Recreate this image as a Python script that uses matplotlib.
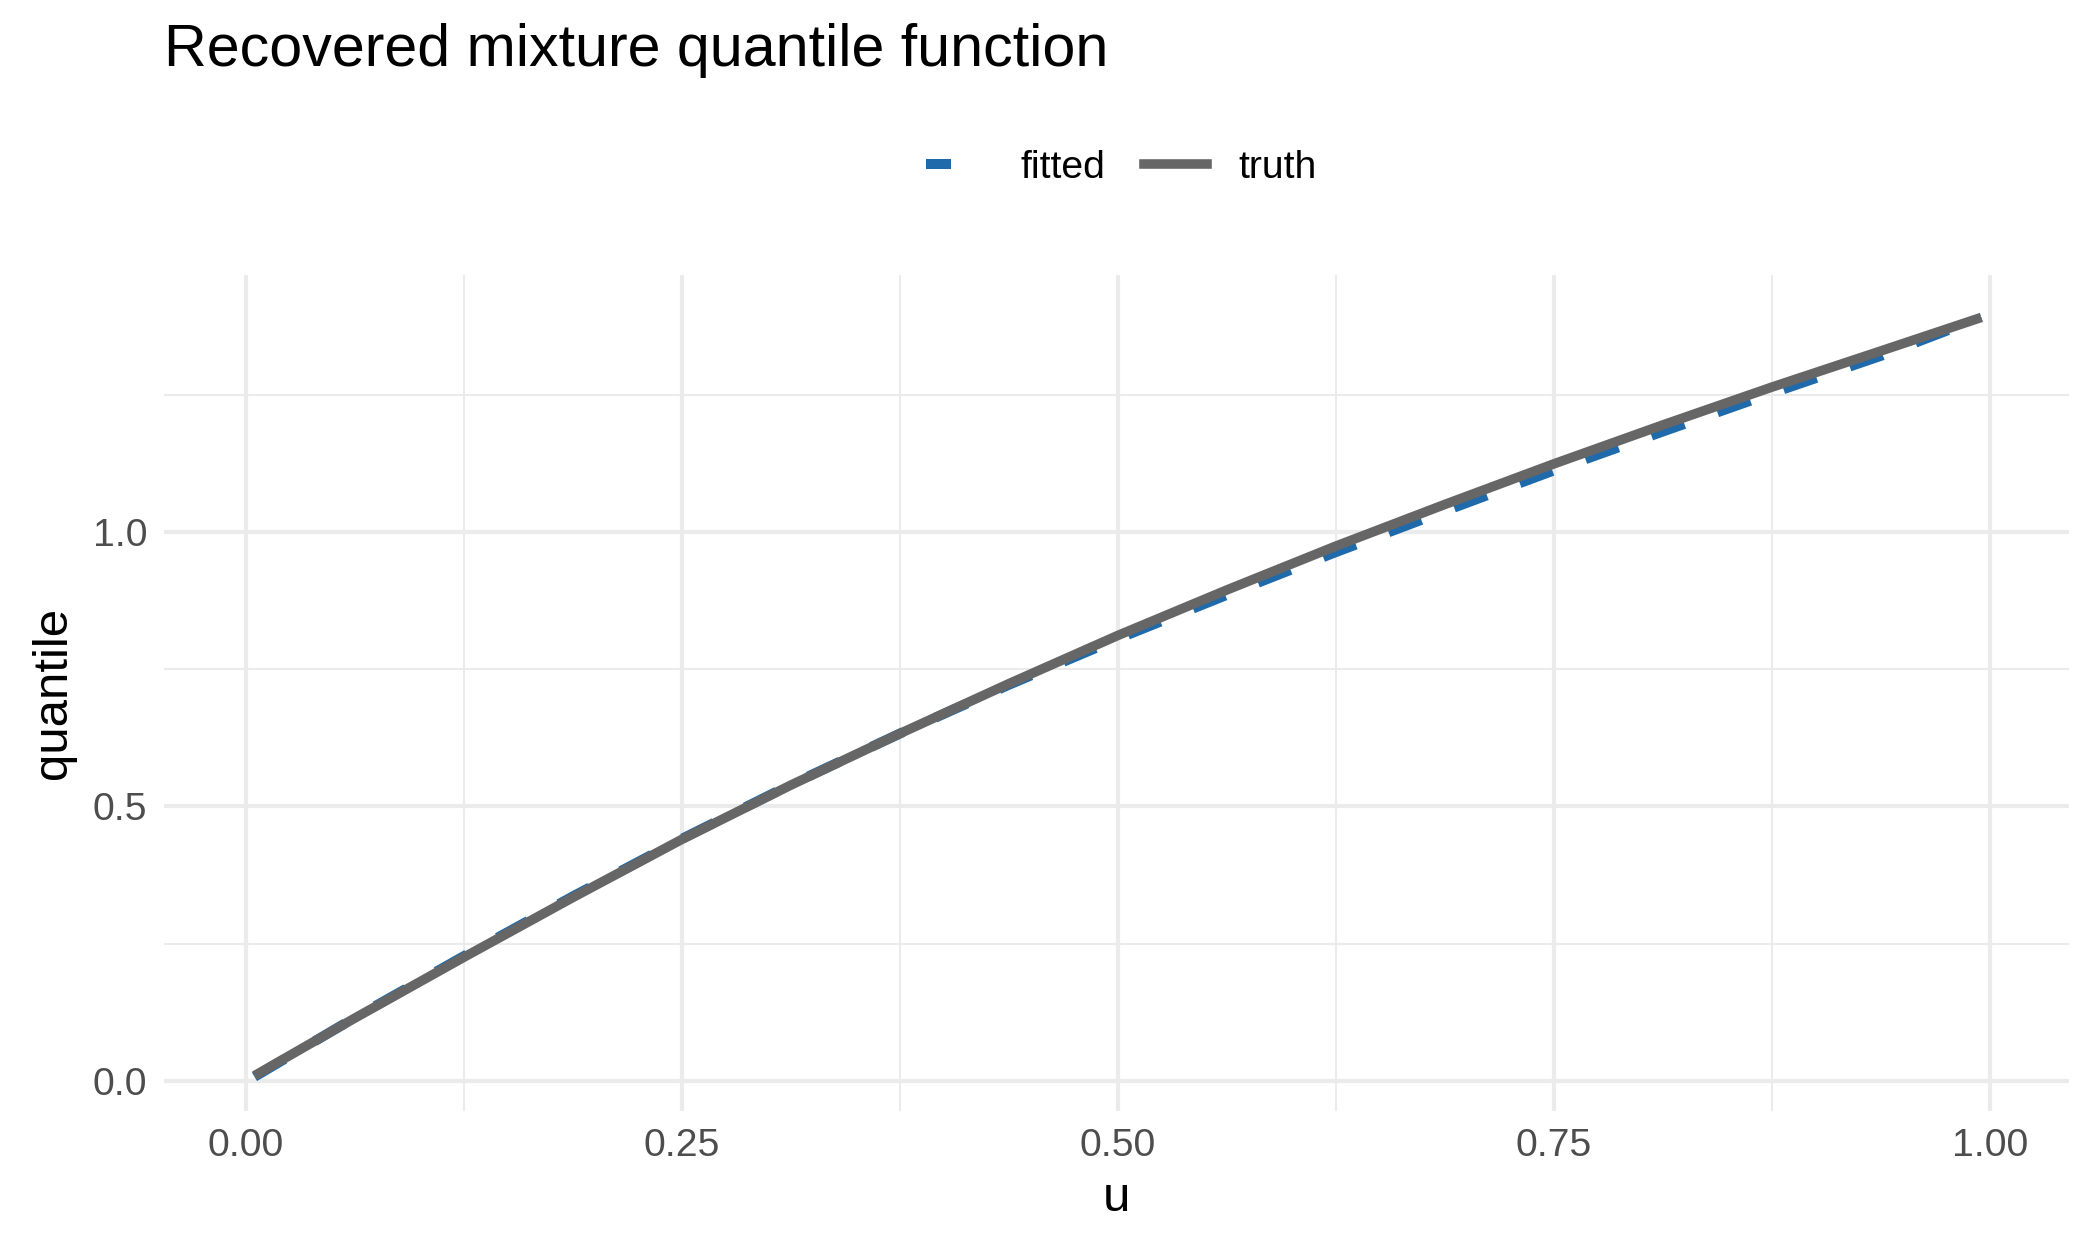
import matplotlib
matplotlib.use("Agg")
import matplotlib.pyplot as plt
from matplotlib.lines import Line2D

plt.rcParams['font.family'] = ['Liberation Sans', 'DejaVu Sans']

u = [0.005, 0.0625, 0.125, 0.1875, 0.25, 0.3125, 0.375, 0.4375, 0.5, 0.5625,
     0.625, 0.6875, 0.75, 0.8125, 0.875, 0.9375, 0.995]
truth = [0.009, 0.114, 0.225, 0.334, 0.440, 0.539, 0.633, 0.724, 0.812, 0.895,
         0.975, 1.051, 1.125, 1.196, 1.265, 1.331, 1.392]
fitted = [0.007, 0.115, 0.227, 0.336, 0.441, 0.540, 0.633, 0.722, 0.806, 0.886,
          0.964, 1.039, 1.113, 1.184, 1.254, 1.322, 1.392]
xticks = [0.0, 0.25, 0.5, 0.75, 1.0]
xlabels = ["0.00", "0.25", "0.50", "0.75", "1.00"]
yticks = [0.0, 0.5, 1.0]
ylabels = ["0.0", "0.5", "1.0"]

fig = plt.figure(figsize=(7, 4.2), dpi=300)
ax = fig.add_axes([0.078, 0.118, 0.907, 0.664])
ax.set_xlim(-0.047, 1.045)
ax.set_ylim(-0.056, 1.47)
for s in ax.spines.values():
    s.set_visible(False)
ax.set_xticks(xticks, xlabels)
ax.set_yticks(yticks, ylabels)
ax.set_xticks([0.125, 0.375, 0.625, 0.875], minor=True)
ax.set_yticks([0.25, 0.75, 1.25], minor=True)
ax.grid(which='major', color='#EBEBEB', lw=1.0)
ax.grid(which='minor', color='#EBEBEB', lw=0.5)
ax.set_axisbelow(True)
ax.tick_params(which='both', length=0, labelsize=9.4, labelcolor='#4D4D4D', pad=4)

blue = '#1F6AAA'
grey = '#666666'
ax.plot(u, fitted, color=blue, lw=2.4, ls=(0, (3.5, 3.5)), solid_capstyle='butt', zorder=2)
ax.plot(u, truth, color=grey, lw=2.3, zorder=3, solid_capstyle='butt')

ax.set_xlabel("u", fontsize=11.8, labelpad=3)
ax.set_ylabel("quantile", fontsize=11.8, labelpad=4)
fig.text(0.078, 0.96, "Recovered mixture quantile function", fontsize=14.2, va='center', ha='left')

handles = [Line2D([], [], color=blue, lw=2.4, ls=(0, (2.5, 8))),
           Line2D([], [], color=grey, lw=2.3)]
fig.legend(handles, ["fitted", "truth"], loc='center', bbox_to_anchor=(0.534, 0.867),
           ncol=2, frameon=False, fontsize=9.4, handlelength=1.6, columnspacing=1.0,
           handletextpad=0.8)

fig.savefig("out.png", dpi=300)
